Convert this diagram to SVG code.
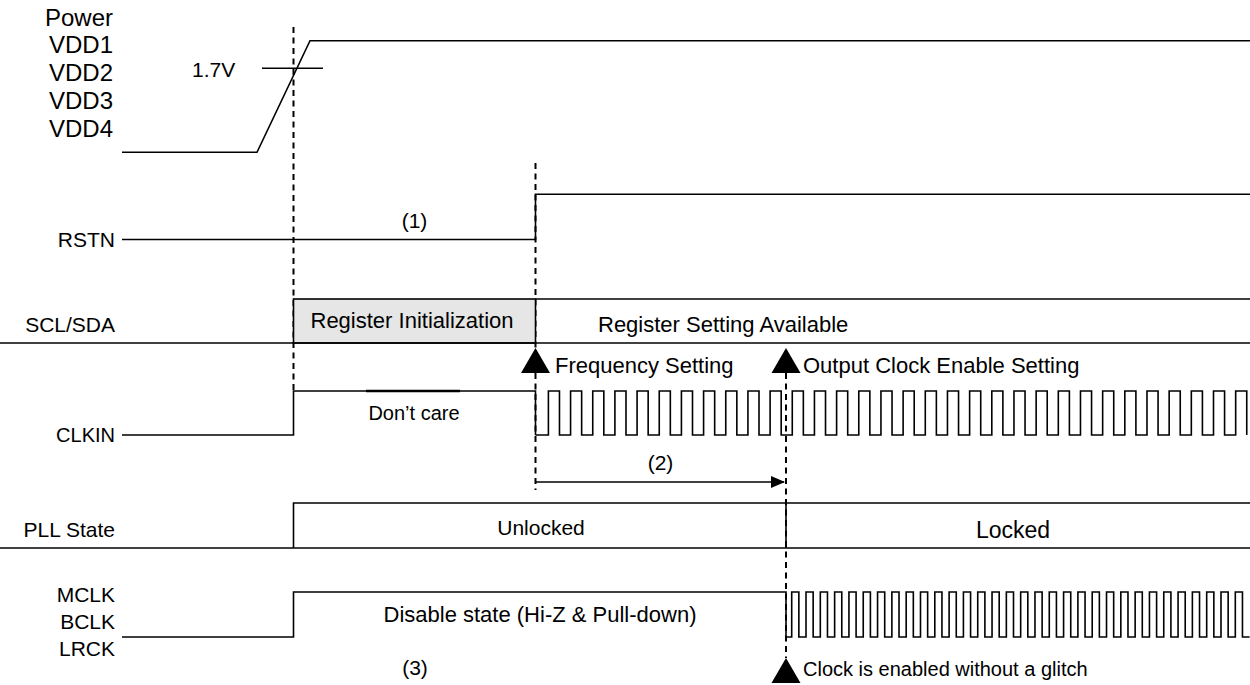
<svg xmlns="http://www.w3.org/2000/svg" width="1250" height="685" viewBox="0 0 1250 685">
  <style>
    text { font-family: "Liberation Sans", Arial, sans-serif; font-size: 22px; fill: #000; }
    .lbl { font-size: 21px; text-anchor: end; }
    .pwr { font-size: 24px; text-anchor: end; }
    .num { font-size: 21px; text-anchor: middle; }
    .mid { text-anchor: middle; }
    .small { font-size: 20px; text-anchor: middle; }
    .s20 { font-size: 20px; }
    .s21 { font-size: 21px; }
    .s23 { font-size: 23px; }
    .sig { fill: none; stroke: #000; stroke-width: 1.6; }
    .dash { fill: none; stroke: #000; stroke-width: 2; stroke-dasharray: 6 4.5; }
    .mark { fill: #000; stroke: none; }
  </style>
  <defs>
    <marker id="arrowhead" markerWidth="14" markerHeight="12" refX="13" refY="6" orient="auto" markerUnits="userSpaceOnUse">
      <path d="M0,0 L14,6 L0,12 Z" fill="#000"/>
    </marker>
    <path id="tri" d="M0,0 L14.5,25 L-14.5,25 Z"/>
  </defs>

  <rect width="1250" height="685" fill="#fff"/>

  <!-- timing reference lines -->
  <g id="connectors">
    <line class="dash" x1="293.5" y1="27" x2="293.5" y2="391"/>
    <line class="dash" x1="535.5" y1="163" x2="535.5" y2="490"/>
    <line class="dash" x1="786" y1="373" x2="786" y2="658"/>
    <line class="sig" x1="535.5" y1="482" x2="784" y2="482" stroke-width="2" marker-end="url(#arrowhead)"/>
    <use href="#tri" x="535.5" y="348" class="mark"/>
    <use href="#tri" x="786" y="348" class="mark"/>
    <use href="#tri" x="786" y="658" class="mark"/>
  </g>

  <!-- Power VDD1..VDD4 -->
  <g id="power">
    <text class="pwr" x="113" y="26">Power</text>
    <text class="pwr" x="113" y="53">VDD1</text>
    <text class="pwr" x="113" y="81">VDD2</text>
    <text class="pwr" x="113" y="109">VDD3</text>
    <text class="pwr" x="113" y="137">VDD4</text>
    <path class="sig" d="M122,152.3 H257 L310,40.7 H1250"/>
    <line class="sig" x1="262" y1="68.3" x2="323" y2="68.3"/>
    <text class="s21" x="192" y="77">1.7V</text>
  </g>

  <!-- RSTN -->
  <g id="rstn">
    <text class="lbl" x="115" y="247">RSTN</text>
    <path class="sig" d="M122,239.5 H535.5 V194.3 H1250"/>
    <text class="num" x="414.5" y="228">(1)</text>
  </g>

  <!-- SCL/SDA -->
  <g id="scl-sda">
    <text class="lbl" x="115" y="332">SCL/SDA</text>
    <rect x="293.5" y="299" width="242" height="44" fill="#e6e6e6" stroke="#000" stroke-width="1.6"/>
    <line class="sig" x1="535.5" y1="299" x2="1250" y2="299"/>
    <line class="sig" x1="0" y1="343" x2="1250" y2="343"/>
    <text class="mid" x="412" y="328">Register Initialization</text>
    <text x="598" y="332">Register Setting Available</text>
    <text x="555" y="373">Frequency Setting</text>
    <text x="803" y="373">Output Clock Enable Setting</text>
  </g>

  <!-- CLKIN -->
  <g id="clkin">
    <text class="lbl s20" x="115" y="442">CLKIN</text>
    <path class="sig" d="M122,435 H293.5 V391 H535.5 V435"/>
    <line x1="366" y1="391" x2="460" y2="391" stroke="#000" stroke-width="2.4"/>
    <text class="small" x="414" y="420">Don’t care</text>
    <path class="sig" d="M535.5,435 H548.4 v-44h11.08v44h11.09 v-44h11.08v44h11.09 v-44h11.08v44h11.09 v-44h11.08v44h11.09 v-44h11.08v44h11.09 v-44h11.08v44h11.09 v-44h11.08v44h11.09 v-44h11.08v44h11.09 v-44h11.08v44h11.09 v-44h11.08v44h11.09 v-44h11.08v44h11.09 v-44h11.08v44h11.09 v-44h11.08v44h11.09 v-44h11.08v44h11.09 v-44h11.08v44h11.09 v-44h11.08v44h11.09 v-44h11.08v44h11.09 v-44h11.08v44h11.09 v-44h11.08v44h11.09 v-44h11.08v44h11.09 v-44h11.08v44h11.09 v-44h11.08v44h11.09 v-44h11.08v44h11.09 v-44h11.08v44h11.09 v-44h11.08v44h11.09 v-44h11.08v44h11.09 v-44h11.08v44h11.09 v-44h11.08v44h11.09 v-44h11.08v44h11.09 v-44h11.08v44h11.09 v-44h11.08v44h11.09 v-44h11.08v44"/>
    <text class="num" x="660.5" y="470">(2)</text>
  </g>

  <!-- PLL State -->
  <g id="pll">
    <text class="lbl" x="115" y="537">PLL State</text>
    <path class="sig" d="M293.5,548 V503 H1250"/>
    <line class="sig" x1="0" y1="548" x2="1250" y2="548"/>
    <line class="sig" x1="786" y1="503" x2="786" y2="548"/>
    <text class="mid s21" x="541" y="535">Unlocked</text>
    <text class="mid s23" x="1013" y="538">Locked</text>
  </g>

  <!-- MCLK / BCLK / LRCK -->
  <g id="mclk">
    <text class="lbl" x="115" y="602">MCLK</text>
    <text class="lbl" x="115" y="629">BCLK</text>
    <text class="lbl" x="115" y="656">LRCK</text>
    <path class="sig" d="M122,637 H293.5 V592 H786 V637"/>
    <path class="sig" d="M786,637 H791.7 v-45h7.15v45h7.16 v-45h7.15v45h7.16 v-45h7.15v45h7.16 v-45h7.15v45h7.16 v-45h7.15v45h7.16 v-45h7.15v45h7.16 v-45h7.15v45h7.16 v-45h7.15v45h7.16 v-45h7.15v45h7.16 v-45h7.15v45h7.16 v-45h7.15v45h7.16 v-45h7.15v45h7.16 v-45h7.15v45h7.16 v-45h7.15v45h7.16 v-45h7.15v45h7.16 v-45h7.15v45h7.16 v-45h7.15v45h7.16 v-45h7.15v45h7.16 v-45h7.15v45h7.16 v-45h7.15v45h7.16 v-45h7.15v45h7.16 v-45h7.15v45h7.16 v-45h7.15v45h7.16 v-45h7.15v45h7.16 v-45h7.15v45h7.16 v-45h7.15v45h7.16 v-45h7.15v45h7.16 v-45h7.15v45h7.16 v-45h7.15v45h7.16 v-45h7.15v45h7.16 v-45h7.15v45h7.16 v-45h7.15v45h7.16"/>
    <text class="mid" x="540" y="622">Disable state (Hi-Z &amp; Pull-down)</text>
    <text class="num" x="415" y="675">(3)</text>
    <text class="s20" x="803" y="676">Clock is enabled without a glitch</text>
  </g>
</svg>
